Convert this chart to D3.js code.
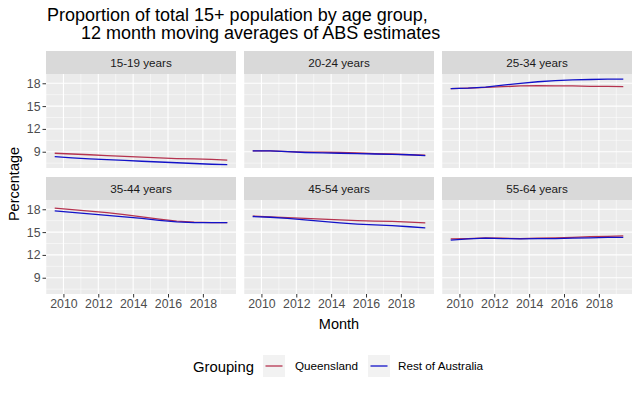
<!DOCTYPE html>
<html>
<head>
<meta charset="utf-8">
<script src="https://cdn.jsdelivr.net/npm/d3@7"></script>
<style>
  body { margin: 0; background: #fff; }
  text { font-family: "Liberation Sans", Arial, sans-serif; }
</style>
</head>
<body>
<div id="chart"></div>
<script>
// mid-year points of the 12 month moving averages
const years = [2009.5, 2010.5, 2011.5, 2012.5, 2013.5, 2014.5, 2015.5, 2016.5, 2017.5, 2018.5, 2019.4];
const ageGroups = ['15-19 years', '20-24 years', '25-34 years', '35-44 years', '45-54 years', '55-64 years'];
const groupings = ['Queensland', 'Rest of Australia'];

const queensland = [
  [8.8, 8.7, 8.6, 8.5, 8.4, 8.3, 8.2, 8.1, 8.05, 8.0, 7.9],
  [9.1, 9.1, 9.0, 8.95, 8.95, 8.9, 8.85, 8.75, 8.7, 8.6, 8.55],
  [17.3, 17.35, 17.45, 17.55, 17.65, 17.7, 17.65, 17.65, 17.6, 17.6, 17.55],
  [18.15, 17.95, 17.75, 17.55, 17.3, 17.0, 16.7, 16.45, 16.3, 16.25, 16.25],
  [17.1, 17.0, 16.9, 16.8, 16.7, 16.6, 16.5, 16.45, 16.4, 16.3, 16.2],
  [14.1, 14.15, 14.25, 14.2, 14.15, 14.2, 14.25, 14.3, 14.4, 14.45, 14.5]
];
const restOfAustralia = [
  [8.35, 8.2, 8.05, 7.95, 7.85, 7.75, 7.65, 7.55, 7.45, 7.35, 7.3],
  [9.1, 9.1, 9.0, 8.9, 8.85, 8.8, 8.75, 8.7, 8.65, 8.6, 8.5],
  [17.3, 17.35, 17.5, 17.75, 18.0, 18.2, 18.35, 18.45, 18.5, 18.55, 18.55],
  [17.8, 17.6, 17.4, 17.2, 17.0, 16.8, 16.55, 16.35, 16.25, 16.25, 16.25],
  [17.05, 16.95, 16.8, 16.6, 16.4, 16.2, 16.05, 15.95, 15.85, 15.7, 15.55],
  [13.95, 14.1, 14.2, 14.15, 14.1, 14.15, 14.15, 14.2, 14.25, 14.3, 14.3]
];
const xTicks = [2010, 2012, 2014, 2016, 2018];
const yTicks = [9, 12, 15, 18];

const W = 640, H = 393;
const colors = { 'Queensland': '#b5334f', 'Rest of Australia': '#1212c8' };
const panelLeft = [46, 244, 442], panelW = 190;
const rowTop = [51, 177], stripH = 23, plotH = 94;
const font = '"Liberation Sans", Arial, sans-serif';

const svg = d3.select('#chart').append('svg')
  .attr('width', W).attr('height', H);

const x = d3.scaleLinear().domain([2009.0, 2019.9]).range([0, panelW]);
const y = d3.scaleLinear().domain([6.86, 19.22]).range([plotH, 0]);

const line = d3.line().x(d => x(d[0])).y(d => y(d[1]));

ageGroups.forEach((name, i) => {
  const col = i % 3, row = Math.floor(i / 3);
  const g = svg.append('g')
    .attr('transform', `translate(${panelLeft[col]},${rowTop[row]})`);

  // strip
  g.append('rect').attr('width', panelW).attr('height', stripH).attr('fill', '#d9d9d9');
  g.append('text').attr('x', panelW / 2).attr('y', stripH / 2 + 4)
    .attr('text-anchor', 'middle').attr('font-size', 11.7).attr('fill', '#1a1a1a')
    .text(name);

  const p = g.append('g').attr('transform', `translate(0,${stripH})`);
  p.append('rect').attr('width', panelW).attr('height', plotH).attr('fill', '#ebebeb');

  // minor grid
  const minorX = d3.range(2009, 2020, 2);
  p.selectAll('.mx').data(minorX).join('line')
    .attr('x1', d => x(d)).attr('x2', d => x(d)).attr('y1', 0).attr('y2', plotH)
    .attr('stroke', '#fff').attr('stroke-width', 0.5);
  const minorY = [7.5, 10.5, 13.5, 16.5];
  p.selectAll('.my').data(minorY).join('line')
    .attr('x1', 0).attr('x2', panelW).attr('y1', d => y(d)).attr('y2', d => y(d))
    .attr('stroke', '#fff').attr('stroke-width', 0.5);
  // major grid
  p.selectAll('.gx').data(xTicks).join('line')
    .attr('x1', d => x(d)).attr('x2', d => x(d)).attr('y1', 0).attr('y2', plotH)
    .attr('stroke', '#fff').attr('stroke-width', 1.1);
  p.selectAll('.gy').data(yTicks).join('line')
    .attr('x1', 0).attr('x2', panelW).attr('y1', d => y(d)).attr('y2', d => y(d))
    .attr('stroke', '#fff').attr('stroke-width', 1.1);

  // lines
  [[groupings[0], queensland[i]], [groupings[1], restOfAustralia[i]]].forEach(([grp, vals]) => {
    p.append('path')
      .datum(years.map((yr, k) => [yr, vals[k]]))
      .attr('d', line).attr('fill', 'none')
      .attr('stroke', colors[grp]).attr('stroke-width', 1.3);
  });

  // y axis on first column
  if (col === 0) {
    const ya = p.append('g').call(d3.axisLeft(y).tickValues(yTicks).tickSize(3.5).tickPadding(2));
    ya.select('.domain').remove();
    ya.selectAll('line').attr('stroke', '#333');
    ya.selectAll('text').attr('font-size', 12.3).attr('fill', '#4d4d4d').style('font-family', font);
  }
  // x axis on bottom row
  if (row === 1) {
    const xa = p.append('g').attr('transform', `translate(0,${plotH})`)
      .call(d3.axisBottom(x).tickValues(xTicks).tickFormat(d3.format('d')).tickSize(3.5).tickPadding(2));
    xa.select('.domain').remove();
    xa.selectAll('line').attr('stroke', '#333');
    xa.selectAll('text').attr('font-size', 12.3).attr('fill', '#4d4d4d').style('font-family', font);
  }
});

// title
svg.append('text').attr('x', 47).attr('y', 21).attr('font-size', 18).attr('fill', '#000')
  .text('Proportion of total 15+ population by age group,');
svg.append('text').attr('x', 81).attr('y', 39).attr('font-size', 18).attr('fill', '#000')
  .text('12 month moving averages of ABS estimates');

// axis titles
svg.append('text').attr('x', 339).attr('y', 329).attr('text-anchor', 'middle')
  .attr('font-size', 14.5).attr('fill', '#000').text('Month');
svg.append('text').attr('transform', 'translate(18.5,184) rotate(-90)')
  .attr('text-anchor', 'middle').attr('font-size', 14.5).attr('fill', '#000').text('Percentage');

// legend
const legend = svg.append('g');
legend.append('text').attr('x', 193).attr('y', 372).attr('font-size', 14.8).attr('fill', '#000').text('Grouping');
const keyX = [263, 368], labX = [295, 398];
groupings.forEach((grp, k) => {
  legend.append('rect').attr('x', keyX[k]).attr('y', 355).attr('width', 22).attr('height', 22).attr('fill', '#f2f2f2');
  legend.append('line').attr('x1', keyX[k] + 2.5).attr('x2', keyX[k] + 19.5).attr('y1', 366).attr('y2', 366)
    .attr('stroke', colors[grp]).attr('stroke-width', 1.3);
  legend.append('text').attr('x', labX[k]).attr('y', 370).attr('font-size', 11.7).attr('fill', '#000').text(grp);
});
</script>
</body>
</html>
